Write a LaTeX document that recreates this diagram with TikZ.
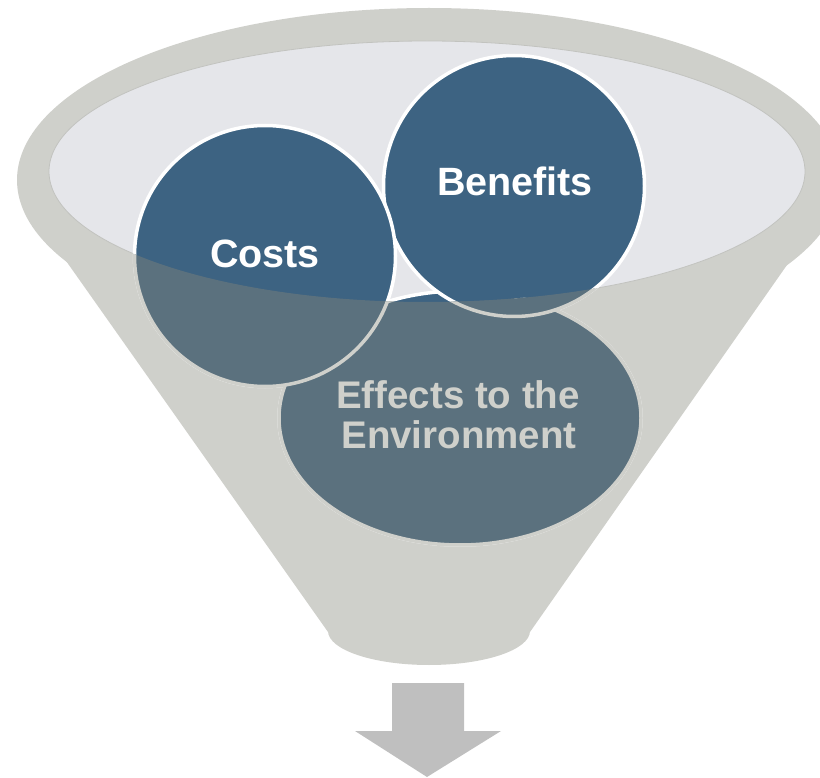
\documentclass[tikz,border=0pt]{standalone}
\usepackage{fontspec}
\setmainfont{Liberation Sans}
\usetikzlibrary{shapes.geometric}
\definecolor{funnelgray}{RGB}{207,208,203}
\definecolor{openlight}{RGB}{229,230,234}
\definecolor{rimedge}{RGB}{194,195,191}
\definecolor{topicblue}{RGB}{61,99,130}
\definecolor{veilblue}{RGB}{91,113,126}
\definecolor{arrowgray}{RGB}{191,191,191}
\begin{document}
\begin{tikzpicture}[x=1pt,y=-1pt,
  topic/.style={circle, inner sep=0pt, minimum size=261pt, fill=topicblue, draw=white, line width=3.5pt},
  topiclabel/.style={font=\bfseries\fontsize{39.5}{44}\selectfont, text=white, anchor=base, inner sep=0pt},
  envlabel/.style={font=\bfseries\fontsize{38.5}{42}\selectfont, text=funnelgray, anchor=base, inner sep=0pt},
  veil/.style={fill=veilblue, draw=funnelgray, line width=3.5pt}]
\useasboundingbox (0,0) rectangle (820,778);
\clip (0,0) rectangle (820,778);
% funnel body
\fill[funnelgray] (429,180) ellipse[x radius=412, y radius=172];
\fill[funnelgray] (19.5,195) -- (836,195) -- (530,632) -- (328,632) -- cycle;
\fill[funnelgray] (429,631) ellipse[x radius=101, y radius=34];
% funnel mouth
\node[ellipse, inner sep=0pt, minimum width=756pt, minimum height=261pt,
      fill=openlight, draw=rimedge, line width=0.8pt] (mouth) at (427,171.5) {};
% topics
\node[ellipse, inner sep=0pt, minimum width=362pt, minimum height=254pt,
      fill=topicblue, draw=white, line width=3.5pt] (env) at (460,418) {};
\node[topic] (benefits) at (514,186) {};
\node[topic] (costs) at (265,256) {};
% front of funnel (veiled part)
\begin{scope}
  \clip (820,171.5) -- (805,171.5) arc[start angle=0, end angle=180, x radius=378, y radius=130.5]
        -- (0,171.5) -- (0,778) -- (820,778) -- cycle;
  \path[veil] (env.center) ellipse[x radius=181, y radius=127];
  \path[veil] (benefits.center) circle[radius=130.5];
  \path[veil] (costs.center) circle[radius=130.5];
\end{scope}
% texts
\node[topiclabel] (coststext) at (265,268) {Costs};
\node[topiclabel] (benefitstext) at (515,196) {Benefits};
\node[envlabel] (envtextA) at (458,408) {Effects to the};
\node[envlabel] (envtextB) at (459,448) {Environment};
% output arrow
\fill[arrowgray] (392,683) -- (464,683) -- (464,731) -- (501,731) -- (427,777) -- (355,731) -- (392,731) -- cycle;
\end{tikzpicture}
\end{document}
